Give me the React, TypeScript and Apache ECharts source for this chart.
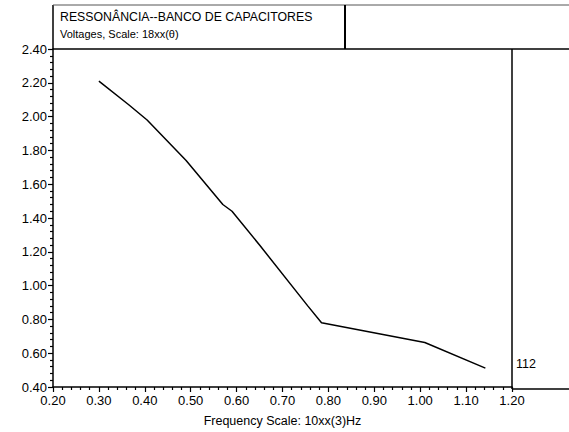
import React, { useEffect, useRef } from "react";
import * as echarts from "echarts";

const titleLine1 = "RESSONÂNCIA--BANCO DE CAPACITORES";
const titleLine2 = "Voltages, Scale: 18xx(θ)";
const xAxisTitle = "Frequency Scale: 10xx(3)Hz";
const rightLabel = "112";

const frequency = [0.30, 0.365, 0.405, 0.49, 0.57, 0.59, 0.65, 0.755, 0.785, 1.01, 1.142];
const voltage = [2.21, 2.07, 1.98, 1.74, 1.48, 1.44, 1.24, 0.88, 0.78, 0.663, 0.512];

const xMin = 0.2, xMax = 1.2, xStep = 0.1;
const yMin = 0.4, yMax = 2.4, yStep = 0.2;

const FONT = "Liberation Sans";

export default function App() {
  const ref = useRef<HTMLDivElement>(null);
  useEffect(() => {
    if (!ref.current) return;
    const chart = echarts.init(ref.current, null, { renderer: "svg" });
    const gridLeft = 53, gridTop = 49, gridRight = 57, gridBottom = 43;
    const W = 569, H = 432;
    const plotRight = W - gridRight;
    const plotBottom = H - gridBottom;
    chart.setOption({
      animation: false,
      backgroundColor: "#ffffff",
      grid: { left: gridLeft, top: gridTop, right: gridRight, bottom: gridBottom },
      xAxis: {
        type: "value",
        min: xMin,
        max: xMax,
        interval: xStep,
        axisLine: { show: true, lineStyle: { color: "#000", width: 1.5 } },
        axisTick: { show: true, length: 5, lineStyle: { color: "#000", width: 1.2 } },
        minorTick: { show: true, splitNumber: 5, length: 3, lineStyle: { color: "#000", width: 1.2 } },
        splitLine: { show: false },
        axisLabel: {
          color: "#000",
          fontFamily: FONT,
          fontSize: 13,
          margin: 7,
          formatter: (v: number) => v.toFixed(2),
        },
        name: xAxisTitle,
        nameLocation: "middle",
        nameGap: 27,
        nameTextStyle: { color: "#000", fontFamily: FONT, fontSize: 12.5 },
      },
      yAxis: [
        {
          type: "value",
          min: yMin,
          max: yMax,
          interval: yStep,
          axisLine: { show: true, lineStyle: { color: "#000", width: 1.5 } },
          axisTick: { show: true, length: 5, lineStyle: { color: "#000", width: 1.2 } },
          minorTick: { show: true, splitNumber: 5, length: 3, lineStyle: { color: "#000", width: 1.2 } },
          splitLine: { show: false },
          axisLabel: {
            color: "#000",
            fontFamily: FONT,
            fontSize: 13,
            margin: 6,
            formatter: (v: number) => v.toFixed(2),
          },
        },
      ],
      series: [
        {
          type: "line",
          data: frequency.map((f, i) => [f, voltage[i]]),
          showSymbol: false,
          symbol: "none",
          lineStyle: { color: "#000", width: 1.5 },
        },
      ],
      graphic: [
        { type: "line", shape: { x1: gridLeft, y1: 5, x2: gridLeft, y2: gridTop }, style: { stroke: "#000", lineWidth: 1.5 } },
        { type: "line", shape: { x1: gridLeft, y1: 5, x2: W, y2: 5 }, style: { stroke: "#555", lineWidth: 1 } },
        { type: "line", shape: { x1: 345, y1: 5, x2: 345, y2: gridTop }, style: { stroke: "#000", lineWidth: 2 } },
        { type: "line", shape: { x1: gridLeft, y1: gridTop, x2: W, y2: gridTop }, style: { stroke: "#000", lineWidth: 1.5 } },
        { type: "line", shape: { x1: plotRight, y1: gridTop, x2: plotRight, y2: plotBottom }, style: { stroke: "#000", lineWidth: 1.5 } },
        { type: "line", shape: { x1: plotRight, y1: plotBottom, x2: W, y2: plotBottom }, style: { stroke: "#000", lineWidth: 1.5 } },
        {
          type: "text",
          left: 60,
          top: 11,
          style: { text: titleLine1, fill: "#000", font: `12.3px '${FONT}'` },
        },
        {
          type: "text",
          left: 60,
          top: 28,
          style: { text: titleLine2, fill: "#000", font: `11px '${FONT}'` },
        },
        {
          type: "text",
          left: plotRight + 4,
          top: 357,
          style: { text: rightLabel, fill: "#000", font: `12.5px '${FONT}'` },
        },
      ],
    });
    return () => chart.dispose();
  }, []);
  return <div ref={ref} style={{ width: 569, height: 432, position: "fixed", left: 0, top: 0 }} />;
}
